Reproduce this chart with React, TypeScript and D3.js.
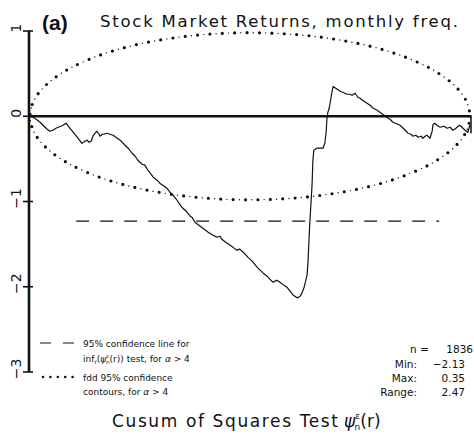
import React from 'react';
import * as d3 from 'd3';

// ---------- data ----------
const cusumR = [0, 0.007, 0.014, 0.023, 0.032, 0.039, 0.045, 0.052, 0.059, 0.064, 0.07, 0.075, 0.082, 0.091, 0.1, 0.109, 0.118, 0.125, 0.13, 0.134, 0.139, 0.143, 0.148, 0.152, 0.157, 0.159, 0.164, 0.168, 0.175, 0.182, 0.189, 0.195, 0.205, 0.216, 0.223, 0.232, 0.239, 0.245, 0.255, 0.261, 0.268, 0.28, 0.289, 0.295, 0.305, 0.311, 0.318, 0.325, 0.334, 0.345, 0.355, 0.364, 0.368, 0.375, 0.384, 0.393, 0.405, 0.416, 0.425, 0.432, 0.436, 0.445, 0.455, 0.464, 0.47, 0.477, 0.482, 0.489, 0.495, 0.505, 0.516, 0.523, 0.53, 0.539, 0.545, 0.552, 0.557, 0.561, 0.568, 0.577, 0.584, 0.591, 0.598, 0.605, 0.609, 0.614, 0.618, 0.623, 0.627, 0.63, 0.632, 0.634, 0.636, 0.639, 0.641, 0.643, 0.645, 0.652, 0.659, 0.666, 0.67, 0.673, 0.675, 0.677, 0.68, 0.684, 0.686, 0.689, 0.695, 0.705, 0.711, 0.72, 0.727, 0.732, 0.739, 0.745, 0.75, 0.759, 0.766, 0.773, 0.78, 0.789, 0.795, 0.805, 0.811, 0.818, 0.825, 0.83, 0.836, 0.841, 0.848, 0.855, 0.859, 0.866, 0.87, 0.877, 0.882, 0.889, 0.893, 0.898, 0.902, 0.907, 0.909, 0.914, 0.916, 0.92, 0.925, 0.932, 0.941, 0.948, 0.955, 0.961, 0.968, 0.973, 0.977, 0.984, 0.989, 0.995, 1.0];
const cusumV = [0, -0.012, -0.035, -0.07, -0.117, -0.152, -0.176, -0.164, -0.141, -0.129, -0.117, -0.106, -0.082, -0.141, -0.199, -0.258, -0.317, -0.293, -0.281, -0.305, -0.293, -0.234, -0.199, -0.176, -0.211, -0.234, -0.211, -0.211, -0.199, -0.211, -0.223, -0.246, -0.281, -0.34, -0.375, -0.434, -0.469, -0.516, -0.563, -0.574, -0.633, -0.715, -0.75, -0.785, -0.821, -0.844, -0.891, -0.926, -0.985, -1.067, -1.114, -1.172, -1.184, -1.243, -1.278, -1.313, -1.36, -1.395, -1.419, -1.407, -1.442, -1.477, -1.512, -1.547, -1.571, -1.559, -1.583, -1.618, -1.653, -1.7, -1.77, -1.805, -1.841, -1.876, -1.911, -1.946, -1.934, -1.923, -1.946, -1.981, -2.005, -2.052, -2.098, -2.122, -2.13, -2.11, -2.075, -2.005, -1.923, -1.852, -1.688, -1.454, -1.243, -0.985, -0.809, -0.516, -0.399, -0.375, -0.375, -0.375, -0.317, -0.188, -0.023, 0.047, 0.094, 0.211, 0.281, 0.35, 0.328, 0.293, 0.281, 0.258, 0.258, 0.246, 0.27, 0.223, 0.211, 0.176, 0.152, 0.129, 0.094, 0.07, 0.047, 0.012, -0.012, -0.035, -0.07, -0.082, -0.094, -0.106, -0.141, -0.176, -0.199, -0.211, -0.234, -0.223, -0.246, -0.234, -0.258, -0.234, -0.223, -0.246, -0.258, -0.176, -0.094, -0.082, -0.106, -0.129, -0.117, -0.141, -0.129, -0.164, -0.141, -0.117, -0.106, -0.141, -0.164, -0.188, -0.1];

const contourR = [0, 0.005, 0.01, 0.02, 0.035, 0.05, 0.075, 0.1, 0.15, 0.2, 0.25, 0.3, 0.35, 0.4, 0.45, 0.5, 0.55, 0.6, 0.65, 0.7, 0.75, 0.8, 0.85, 0.9, 0.925, 0.95, 0.965, 0.98, 0.99, 0.995, 1];
const contourUpper = [0, 0.138, 0.195, 0.274, 0.36, 0.427, 0.516, 0.588, 0.7, 0.784, 0.849, 0.898, 0.935, 0.96, 0.975, 0.98, 0.975, 0.96, 0.935, 0.898, 0.849, 0.784, 0.7, 0.588, 0.516, 0.427, 0.36, 0.274, 0.195, 0.138, 0];

const yTicks = [1, 0, -1, -2, -3];
const yTickLabels = ['1', '0', '\u22121', '\u22122', '\u22123'];
const critValue = -1.23;
const critFrom = 0.105;
const critTo = 0.93;
const nObs = '1836';
const statLabels = ['Min:', 'Max:', 'Range:'];
const statValues = ['\u22122.13', '0.35', '2.47'];

// ---------- component ----------
export default function App() {
  const x = d3.scaleLinear().domain([0, 1]).range([30, 470]);
  const y = d3.scaleLinear().domain([-3, 1]).range([372, 31]);

  const cusumLine = d3
    .line<number>()
    .x((_, i) => x(cusumR[i]))
    .y((d) => y(d))(cusumV) as string;

  const contourPts: [number, number][] = [];
  contourR.forEach((r, i) => contourPts.push([x(r), y(contourUpper[i])]));
  for (let i = contourR.length - 2; i > 0; i--) contourPts.push([x(contourR[i]), y(-contourUpper[i])]);
  const contourPath = d3.line().curve(d3.curveCatmullRomClosed)(contourPts) as string;

  const font = '"DejaVu Sans", "Liberation Sans", sans-serif';
  const ink = '#111';

  return (
    <svg
      width={474}
      height={439}
      style={{ position: 'absolute', left: 0, top: 0, background: '#fff' }}
      fontFamily={font}
    >
      {/* confidence contours (dotted ellipse) */}
      <path d={contourPath} fill="none" stroke={ink} strokeWidth={3.2} strokeLinecap="round" strokeDasharray="0 12.4" />
      <path d={contourPath} fill="none" stroke={ink} strokeWidth={1.4} strokeLinecap="round" strokeDasharray="0 12.4" strokeDashoffset={6.2} />

      {/* critical dashed line */}
      <line x1={x(critFrom)} x2={x(critTo)} y1={y(critValue)} y2={y(critValue)} stroke={ink} strokeWidth={1.2} strokeDasharray="13 11" />

      {/* zero line */}
      <line x1={x(0) - 1} x2={x(1) + 1} y1={y(0)} y2={y(0)} stroke={ink} strokeWidth={2.6} />
      <line x1={x(1) + 1} x2={x(1) + 1} y1={y(0) - 1} y2={y(-0.2)} stroke={ink} strokeWidth={1.5} />

      {/* cusum path */}
      <path d={cusumLine} fill="none" stroke={ink} strokeWidth={1.2} strokeLinejoin="round" />

      {/* y axis */}
      <line x1={29} x2={29} y1={y(1)} y2={y(-3)} stroke={ink} strokeWidth={2.6} />
      {yTicks.map((t, i) => (
        <g key={t}>
          <line x1={23} x2={33} y1={y(t)} y2={y(t)} stroke={ink} strokeWidth={1.6} />
          <text
            transform={`translate(21,${y(t) - 3}) rotate(-90)`}
            textAnchor="middle"
            fontSize={14}
            fill={ink}
          >
            {yTickLabels[i]}
          </text>
        </g>
      ))}

      {/* titles */}
      <text x={42} y={30} fontSize={21} fontWeight="bold" fontFamily='"Liberation Sans", Arial, sans-serif' fill={ink}>
        (a)
      </text>
      <text x={100} y={27} fontSize={16.5} fill={ink} textLength={358} lengthAdjust="spacing">
        Stock Market Returns, monthly freq.
      </text>

      <text x={112} y={427} fontSize={17} fill={ink} textLength={226} lengthAdjust="spacing">
        Cusum of Squares Test
      </text>
      <text x={344} y={427} fontSize={17} fill={ink}>
        <tspan fontStyle="italic">ψ</tspan>
        <tspan fontSize={9} dy={-8}>ε</tspan>
        <tspan fontSize={9} dx={-5.5} dy={11}>n</tspan>
        <tspan dy={-3}>(r)</tspan>
      </text>

      {/* legend */}
      <line x1={40} x2={76} y1={343} y2={343} stroke={ink} strokeWidth={1.2} strokeDasharray="11 12" />
      <text x={83} y={347} fontSize={9} fill={ink}>95% confidence line for</text>
      <text x={83} y={362} fontSize={9} fill={ink}>
        <tspan>inf</tspan>
        <tspan fontSize={6} dy={2}>r</tspan>
        <tspan dy={-2}>(</tspan>
        <tspan fontStyle="italic">ψ</tspan>
        <tspan fontSize={5.5} dy={-4}>ε</tspan>
        <tspan fontSize={5.5} dx={-3.2} dy={6}>n</tspan>
        <tspan dy={-2}>(r)) test, for </tspan>
        <tspan fontStyle="italic">α</tspan>
        <tspan> &gt; 4</tspan>
      </text>
      <line x1={43} x2={80} y1={377} y2={377} stroke={ink} strokeWidth={2.6} strokeLinecap="round" strokeDasharray="0 7.4" />
      <text x={83} y={381} fontSize={9} fill={ink}>fdd 95% confidence</text>
      <text x={83} y={395} fontSize={9} fill={ink}>
        contours, for <tspan fontStyle="italic">α</tspan> &gt; 4
      </text>

      {/* stats */}
      <text x={410} y={353} fontSize={10.5} fill={ink}>n =</text>
      <text x={473} y={353} fontSize={10.5} fill={ink} textAnchor="end">{nObs}</text>
      {statLabels.map((l, i) => (
        <g key={l}>
          <text x={417} y={368 + i * 14} fontSize={10.5} fill={ink} textAnchor="end">{l}</text>
          <text x={465} y={368 + i * 14} fontSize={10.5} fill={ink} textAnchor="end">{statValues[i]}</text>
        </g>
      ))}
    </svg>
  );
}
